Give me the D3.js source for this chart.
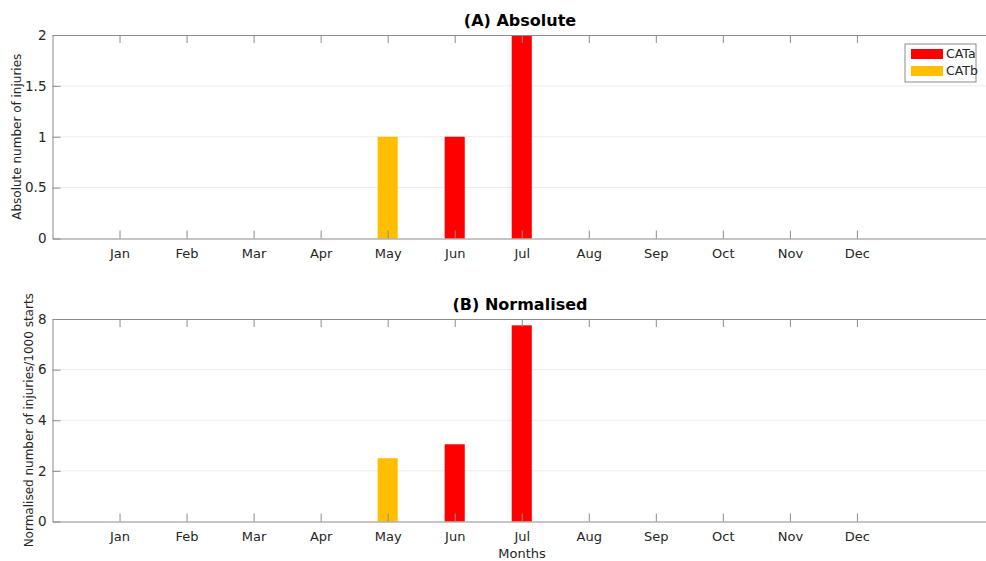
<!DOCTYPE html>
<html>
<head>
<meta charset="utf-8">
<script src="https://cdn.jsdelivr.net/npm/d3@7"></script>
<style>
  body { margin: 0; background: #fff; }
  svg { display: block; font-family: "DejaVu Sans", sans-serif; }
  .tick text { fill: #262626; }
</style>
</head>
<body>
<svg id="chart"></svg>
<script>
// data
const months = ["Jan", "Feb", "Mar", "Apr", "May", "Jun", "Jul", "Aug", "Sep", "Oct", "Nov", "Dec"];
const seriesNames = ["CATa", "CATb"];
const seriesColors = ["#ff0000", "#ffbf00"];

const absCATa = [0, 0, 0, 0, 0, 1, 2, 0, 0, 0, 0, 0];
const absCATb = [0, 0, 0, 0, 1, 0, 0, 0, 0, 0, 0, 0];
const normCATa = [0, 0, 0, 0, 0, 3.05, 7.75, 0, 0, 0, 0, 0];
const normCATb = [0, 0, 0, 0, 2.5, 0, 0, 0, 0, 0, 0, 0];

const absTicks = [0, 0.5, 1, 1.5, 2];
const normTicks = [0, 2, 4, 6, 8];

const width = 986, height = 561;
const axisColor = "#8c8c8c", textColor = "#262626", gridColor = "#ebebeb";

const svg = d3.select("#chart").attr("width", width).attr("height", height);
svg.append("rect").attr("width", width).attr("height", height).attr("fill", "#fff");

// shared x scale, month index 1..12 on a 0..14 range like the original
const x = d3.scaleLinear().domain([0, 14]).range([52.5, 991]);
const step = x(1) - x(0);
const barW = step * 0.3;

let drawPanel = function (opts) {
  const y = d3.scaleLinear().domain(opts.domain).range([opts.bottom, opts.top]);
  const g = svg.append("g");

  // grid
  g.selectAll(".grid")
    .data(opts.ticks.slice(1, -1))
    .enter().append("line")
    .attr("x1", x(0)).attr("x2", x(14))
    .attr("y1", d => y(d)).attr("y2", d => y(d))
    .attr("stroke", gridColor).attr("stroke-width", 1);

  // stacked bars
  const rows = months.map((m, i) => ({ i: i + 1, CATa: opts.a[i], CATb: opts.b[i] }));
  const stacked = d3.stack().keys(seriesNames)(rows);
  stacked.forEach((layer, k) => {
    g.selectAll(".bar" + k)
      .data(layer.filter(d => d[1] - d[0] > 0))
      .enter().append("rect")
      .attr("x", d => x(d.data.i) - barW / 2)
      .attr("width", barW)
      .attr("y", d => y(d[1]))
      .attr("height", d => y(d[0]) - y(d[1]))
      .attr("fill", seriesColors[k]);
  });

  // bottom axis
  const xAxis = d3.axisBottom(x)
    .tickValues(d3.range(1, 13))
    .tickFormat(d => months[d - 1])
    .tickSizeInner(-8).tickSizeOuter(0).tickPadding(10);
  const gx = g.append("g")
    .attr("transform", "translate(0," + opts.bottom + ")")
    .call(xAxis);
  gx.selectAll("text").attr("font-size", 13).attr("font-family", "DejaVu Sans");

  // top axis (ticks only)
  const gxt = g.append("g")
    .attr("transform", "translate(0," + opts.top + ")")
    .call(d3.axisTop(x).tickValues(d3.range(1, 13)).tickFormat("").tickSizeInner(-8).tickSizeOuter(0));

  // left axis
  const yAxis = d3.axisLeft(y)
    .tickValues(opts.ticks)
    .tickFormat(d3.format("~g"))
    .tickSizeInner(-8).tickSizeOuter(0).tickPadding(6);
  const gy = g.append("g")
    .attr("transform", "translate(" + x(0) + ",0)")
    .call(yAxis);
  gy.selectAll("text").attr("font-size", 13.5).attr("font-family", "DejaVu Sans");

  [gx, gxt, gy].forEach(a => {
    a.select(".domain").attr("stroke", axisColor);
    a.selectAll(".tick line").attr("stroke", axisColor);
  });

  // title
  g.append("text")
    .attr("x", 520).attr("y", opts.top - 9)
    .attr("text-anchor", "middle")
    .attr("font-size", 16).attr("font-weight", "bold")
    .attr("fill", "#000")
    .text(opts.title);

  // y label
  g.append("text")
    .attr("transform", "translate(" + opts.ylabelX + "," + ((opts.top + opts.bottom) / 2) + ") rotate(-90)")
    .attr("text-anchor", "middle")
    .attr("dy", "0.35em")
    .attr("font-size", 12)
    .attr("fill", textColor)
    .text(opts.ylabel);

  return g;
};

drawPanel({
  top: 35, bottom: 238.5, domain: [0, 2], ticks: absTicks,
  a: absCATa, b: absCATb,
  title: "(A) Absolute", ylabel: "Absolute number of injuries", ylabelX: 17
});

drawPanel({
  top: 319, bottom: 521.5, domain: [0, 8], ticks: normTicks,
  a: normCATa, b: normCATb,
  title: "(B) Normalised", ylabel: "Normalised number of injuries/1000 starts", ylabelX: 29
});

// x label
svg.append("text")
  .attr("x", 522).attr("y", 558)
  .attr("text-anchor", "middle")
  .attr("font-size", 13)
  .attr("fill", textColor)
  .text("Months");

// legend
const legend = svg.append("g").attr("transform", "translate(905,44)");
legend.append("rect")
  .attr("width", 71).attr("height", 38)
  .attr("fill", "#fff").attr("stroke", axisColor);
seriesNames.forEach((name, k) => {
  legend.append("rect")
    .attr("x", 6).attr("y", 5 + k * 17)
    .attr("width", 32).attr("height", 10)
    .attr("fill", seriesColors[k]);
  legend.append("text")
    .attr("x", 41).attr("y", 10 + k * 17)
    .attr("dy", "0.35em")
    .attr("font-size", 12.5)
    .attr("fill", textColor)
    .text(name);
});
</script>
</body>
</html>
